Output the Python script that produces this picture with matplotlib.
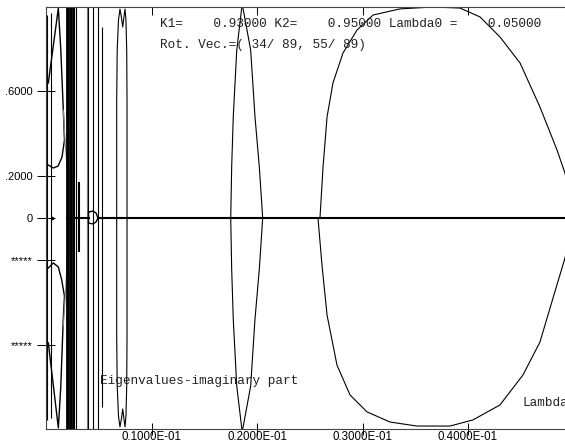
import numpy as np
import matplotlib.pyplot as plt

# --- data (x = Lambda, y = imaginary part) ---
xticks = [0.01, 0.02, 0.03, 0.04]
xtick_labels = ['0.1000E-01', '0.2000E-01', '0.3000E-01', '0.4000E-01']
yticks = [0.6, 0.2, 0.0, -0.2, -0.6]
ytick_labels = ['.6000', '.2000', '0', '*****', '*****']

# big loop on the right, upper and lower halves
big_up_x = [0.02597, 0.02626, 0.02664, 0.02720, 0.02815, 0.02948, 0.03100, 0.03355,
            0.03668, 0.03924, 0.04114, 0.04303, 0.04493, 0.04682, 0.04844, 0.04919, 0.04990]
big_up_y = [0.0, 0.242, 0.479, 0.640, 0.782, 0.891, 0.962, 0.991,
            1.0, 0.995, 0.953, 0.858, 0.735, 0.526, 0.322, 0.213, 0.05]
big_lo_x = [0.02578, 0.02616, 0.02664, 0.02758, 0.02882, 0.03043, 0.03261, 0.03517,
            0.03829, 0.04047, 0.04303, 0.04521, 0.04682, 0.04806, 0.04919, 0.04990]
big_lo_y = [0.0, -0.223, -0.460, -0.697, -0.839, -0.919, -0.967, -0.986,
            -0.986, -0.957, -0.886, -0.744, -0.588, -0.379, -0.190, -0.05]

# lens near 0.019 (upper half; the lower half mirrors it)
lens2_y = [1.0, 0.995, 0.796, 0.479, 0.242, 0.0]
lens2_left = [0.01858, 0.01855, 0.01808, 0.01775, 0.01760, 0.01751]
lens2_right = [0.01858, 0.01867, 0.01940, 0.01981, 0.02022, 0.02054]

# narrow lens near 0.007 with an M-shaped top (upper half)
lens1_x = [0.00670, 0.00670, 0.00675, 0.00687, 0.00701, 0.00716, 0.00727, 0.00739,
           0.00749, 0.00758, 0.00765, 0.00768, 0.00768]
lens1_y = [0.0, 0.559, 0.796, 0.938, 0.990, 0.948, 0.905, 0.953,
           0.990, 0.938, 0.796, 0.559, 0.0]

# small loops at the far left, upper and lower
hook_up_x = [0.00022, 0.00117, 0.00140, 0.00164, 0.00175, 0.00152, 0.00114, 0.00069, 0.00022]
hook_up_y = [0.640, 0.995, 0.800, 0.512, 0.370, 0.289, 0.246, 0.237, 0.251]
hook_lo_x = [0.00022, 0.00117, 0.00140, 0.00164, 0.00175, 0.00149, 0.00117, 0.00069, 0.00022]
hook_lo_y = [-0.592, -0.995, -0.800, -0.474, -0.370, -0.294, -0.232, -0.213, -0.237]
grey_up_x = [0.00164, 0.00180, 0.00211]
grey_up_y = [0.512, 0.370, 0.161]
grey_lo_x = [0.00211, 0.00180, 0.00164]
grey_lo_y = [-0.118, -0.389, -0.512]

# vertical strokes: x, y top, y bottom
vx = [0.00007, 0.00052, 0.00199, 0.00212, 0.00226, 0.00240, 0.00254, 0.00265,
      0.00280, 0.00401, 0.00448, 0.00496, 0.00534]
vtop = [0.962, 0.972, 1.0, 1.0, 1.0, 1.0, 1.0, 1.0, 1.0, 1.0, 1.0, 1.0, 0.905]
vbot = [-0.957, -0.948, -1.0, -1.0, -1.0, -1.0, -1.0, -1.0, -1.0, -1.0, -1.0, -1.0, -0.896]
grey_vx = [0.00386]
bar_x = [0.00316]
bar_top = [0.171]
bar_bot = [-0.161]

# real axis: branch line and the small D-shaped loop
axis_x1 = [0.00199, 0.00403]
axis_x2 = [0.00493, 0.0500]
dloop_x = [0.00403, 0.00445, 0.00474, 0.00493, 0.00474, 0.00445, 0.00403, 0.00403]
dloop_y = [0.028, 0.033, 0.024, 0.0, -0.019, -0.028, -0.024, 0.028]
dot_x = [0.00054]
dot_y = [0.0]

mono = ['Liberation Mono', 'DejaVu Sans Mono']
sans = ['Liberation Sans', 'DejaVu Sans']

fig = plt.figure(figsize=(5.65, 4.45), dpi=100)
ax = fig.add_axes([46 / 565, 16 / 445, 527.5 / 565, 422 / 445])
ax.set_xlim(0, 0.05)
ax.set_ylim(-1, 1)

lw = 0.8
k = 'black'
ax.plot(big_up_x, big_up_y, color=k, lw=lw)
ax.plot(big_lo_x, big_lo_y, color=k, lw=lw)

ly = np.array(lens2_y)
ax.plot(lens2_left, ly, color=k, lw=lw)
ax.plot(lens2_right, ly, color=k, lw=lw)
ax.plot(lens2_left, -ly, color=k, lw=lw)
ax.plot(lens2_right, -ly, color=k, lw=lw)

l1y = np.array(lens1_y)
ax.plot(lens1_x, l1y, color=k, lw=lw)
ax.plot(lens1_x, -l1y, color=k, lw=lw)

ax.plot(hook_up_x, hook_up_y, color=k, lw=1.0)
ax.plot(hook_lo_x, hook_lo_y, color=k, lw=1.0)
ax.plot(grey_up_x, grey_up_y, color='#888888', lw=lw)
ax.plot(grey_lo_x, grey_lo_y, color='#888888', lw=lw)

ax.vlines(vx, vbot, vtop, color=k, lw=lw)
ax.vlines(vx[2:8], -1, 1, color=k, lw=1.3)
ax.vlines(grey_vx, -1, 1, color='#777777', lw=lw)
ax.vlines(bar_x, bar_bot, bar_top, color=k, lw=1.5)

ax.plot(axis_x1, [0, 0], color=k, lw=1.5)
ax.plot(axis_x2, [0, 0], color=k, lw=1.5)
ax.plot(dloop_x, dloop_y, color=k, lw=1.0)
ax.plot(dot_x, dot_y, 'o', color=k, ms=1.5)

# axes styling
for s in ['left', 'bottom', 'top']:
    ax.spines[s].set_color('#444444')
    ax.spines[s].set_linewidth(0.8)
ax.spines['right'].set_visible(False)

ax.set_xticks(xticks, labels=xtick_labels)
ax.set_yticks(yticks, labels=ytick_labels)
ax.tick_params(axis='x', direction='inout', length=9, width=0.7, pad=-3, labelsize=8.3)
ax.tick_params(axis='y', direction='inout', length=13, width=0.7, pad=3, labelsize=8)
for t in ax.get_xticklabels() + ax.get_yticklabels():
    t.set_family(sans)

top = ax.secondary_xaxis('top')
top.set_xticks(xticks, labels=[''] * len(xticks))
top.tick_params(direction='in', length=6, width=0.7)
top.spines['top'].set_visible(False)

# texts placed in pixel-like figure fractions
txt = dict(family=mono, fontsize=9.2, color='#222222', va='center', ha='left')
fig.text(160 / 565, 1 - 24 / 445, 'K1=    0.93000 K2=    0.95000 Lambda0 =    0.05000', **txt)
fig.text(160 / 565, 1 - 45 / 445, 'Rot. Vec.=( 34/ 89, 55/ 89)', **txt)
fig.text(100 / 565, 1 - 381 / 445, 'Eigenvalues-imaginary part', **txt)
fig.text(522 / 565, 1 - 403 / 445, 'Lambda', **txt)

fig.savefig('out.png', dpi=100)
